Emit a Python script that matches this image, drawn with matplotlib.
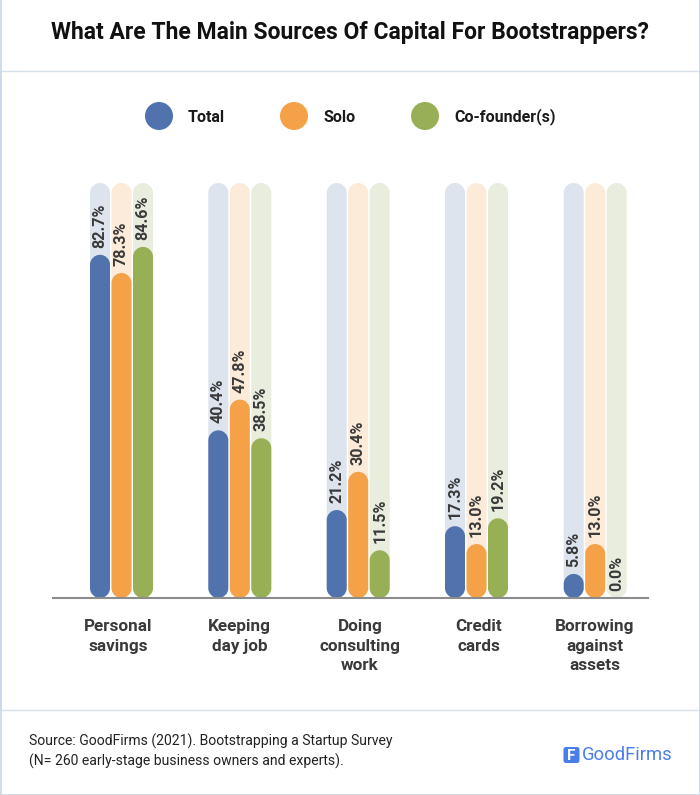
"""
bootstrappers_capital.py
Grouped pill bars: main sources of capital for bootstrappers.
"""
import matplotlib
matplotlib.use("Agg")
import matplotlib.pyplot as plt
from matplotlib.patches import Circle, FancyBboxPatch, PathPatch, Rectangle
from matplotlib.path import Path

W, H = 700, 795

categories = ["Personal\nsavings", "Keeping\nday job", "Doing\nconsulting\nwork",
              "Credit\ncards", "Borrowing\nagainst\nassets"]
series_names = ["Total", "Solo", "Co-founder(s)"]
total = [82.7, 40.4, 21.2, 17.3, 5.8]
solo = [78.3, 47.8, 30.4, 13.0, 13.0]
cofounder = [84.6, 38.5, 11.5, 19.2, 0.0]

colors = ["#5073AE", "#F4A147", "#97B055"]
tracks = ["#DEE4EE", "#FDEBDA", "#E9EDDE"]
TEXT = "#3A3A3A"
KAPPA = 0.5523

plt.rcParams["font.family"] = ["Roboto", "DejaVu Sans"]


def px_axes(fig, x0, y0, x1, y1):
    """Axes placed by reference pixels (y measured from the top)."""
    return fig.add_axes([x0 / W, 1 - y1 / H, (x1 - x0) / W, (y1 - y0) / H])


def pill(ax, x, width, value, color, aspect, zorder):
    """Bar from 0 to value with circular ends (radius r in x units)."""
    r = width / 2
    ry = min(r * aspect, value / 2)
    kx, ky = r * KAPPA, ry * KAPPA
    x1 = x + width
    verts = [(x, ry),
             (x, value - ry),
             (x, value - ry + ky), (x + r - kx, value), (x + r, value),
             (x + r + kx, value), (x1, value - ry + ky), (x1, value - ry),
             (x1, ry),
             (x1, ry - ky), (x + r + kx, 0), (x + r, 0),
             (x + r - kx, 0), (x, ry - ky), (x, ry),
             (x, ry)]
    codes = [Path.MOVETO, Path.LINETO] + [Path.CURVE4] * 6 + [Path.LINETO] \
        + [Path.CURVE4] * 6 + [Path.CLOSEPOLY]
    ax.add_patch(PathPatch(Path(verts, codes), fc=color, ec="none", zorder=zorder))


fig = plt.figure(figsize=(W / 100, H / 100), dpi=100, facecolor="white")

# page furniture, in pixel coordinates
bg = px_axes(fig, 0, 0, W, H)
bg.set_xlim(0, W)
bg.set_ylim(H, 0)
bg.axis("off")
bg.add_patch(Rectangle((0, 71), W, 638.5, fc="none", ec="#D8E0EB", lw=1))
bg.plot([0.5, 0.5], [0, H], color="#C9D7E8", lw=1.2)
bg.plot([W - 0.5, W - 0.5], [0, H], color="#C9D7E8", lw=1.2)
bg.plot([0, W], [H - 0.5, H - 0.5], color="#C9D7E8", lw=1.2)

bg.text(350, 33, "What Are The Main Sources Of Capital For Bootstrappers?",
        ha="center", va="center", fontsize=16.5, fontweight="bold", color="#111111")

for cx, tx, name, c in zip([159, 294, 425], [188, 323, 454], series_names, colors):
    bg.add_patch(Circle((cx, 116), 14, fc=c, ec="none"))
    bg.text(tx, 117, name, ha="left", va="center", fontsize=11.5,
            fontweight="bold", color="#1A1A1A")

bg.text(29, 741, "Source: GoodFirms (2021). Bootstrapping a Startup Survey",
        ha="left", va="center", fontsize=10.05, color="#222222")
bg.text(29, 761, "(N= 260 early-stage business owners and experts).",
        ha="left", va="center", fontsize=10.05, color="#222222")

# logo
bg.add_patch(FancyBboxPatch((563.5, 747), 16, 16,
                            boxstyle="round,pad=0,rounding_size=2.5",
                            fc="#4A7DEC", ec="none"))
bg.text(571.5, 755.5, "F", ha="center", va="center", fontsize=11,
        fontweight="bold", color="white")
bg.text(582, 755, "GoodFirms", ha="left", va="center", fontsize=13.2,
        color="#4A7DEC")

# chart, baseline at y=598 and 100% at y=183
ax = px_axes(fig, 53, 183, 648, 598)
ax.set_facecolor("none")
ax.set_xlim(53, 648)
ax.set_ylim(0, 100)
ax.axis("off")
aspect = 100 / 415

group_left = [90, 208.3, 326.7, 445, 563.7]
label_x = [118, 239.5, 360, 479, 595]
bar_w = 20
bar_step = 21.5

for i, left in enumerate(group_left):
    for j, vals in enumerate([total, solo, cofounder]):
        x = left + j * bar_step
        v = vals[i]
        pill(ax, x, bar_w, 100, tracks[j], aspect, 1)
        if v > 0:
            pill(ax, x, bar_w, v, colors[j], aspect, 2)
        ax.annotate(f"{v:.1f}%", (x + bar_w / 2, v), xytext=(0, 5),
                    textcoords="offset points", rotation=90, ha="center",
                    va="bottom", fontsize=11.6, fontweight="bold", color=TEXT,
                    zorder=3)

    ax.annotate(categories[i], (label_x[i], 0), xytext=(0, -15),
                textcoords="offset points", ha="center", va="top", fontsize=12.3,
                fontweight="bold", color="#3A3A3A", linespacing=1.39,
                annotation_clip=False)

ax.plot([53, 648], [0, 0], color="#8C8C8C", lw=1.5, zorder=4, clip_on=False)

fig.savefig("out.png", dpi=100)
